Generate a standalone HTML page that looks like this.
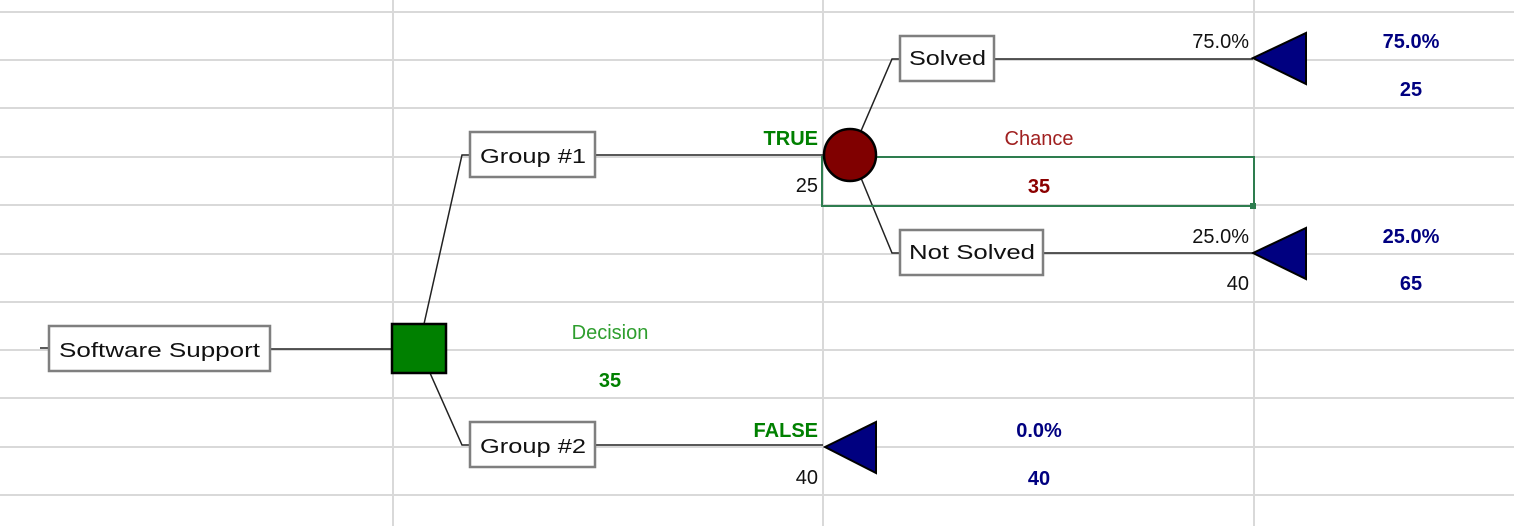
<!DOCTYPE html>
<html><head><meta charset="utf-8"><style>
html,body{margin:0;padding:0;background:#fff;width:1514px;height:526px;overflow:hidden}
text{font-family:"Liberation Sans",sans-serif;font-size:20px}
.b{font-weight:bold}
</style></head><body>
<svg width="1514" height="526" viewBox="0 0 1514 526" xmlns="http://www.w3.org/2000/svg">
<g stroke="#d9d9d9" stroke-width="2">
<line x1="0" y1="12" x2="1514" y2="12"/><line x1="0" y1="60" x2="1514" y2="60"/>
<line x1="0" y1="108" x2="1514" y2="108"/><line x1="0" y1="157" x2="1514" y2="157"/>
<line x1="0" y1="205" x2="1514" y2="205"/><line x1="0" y1="254" x2="1514" y2="254"/>
<line x1="0" y1="302" x2="1514" y2="302"/><line x1="0" y1="350" x2="1514" y2="350"/>
<line x1="0" y1="398" x2="1514" y2="398"/><line x1="0" y1="447" x2="1514" y2="447"/>
<line x1="0" y1="495" x2="1514" y2="495"/>
<line x1="393" y1="0" x2="393" y2="526"/><line x1="823" y1="0" x2="823" y2="526"/>
<line x1="1254" y1="0" x2="1254" y2="526"/>
</g>
<g stroke="#222" stroke-width="1.5" fill="none">
<line x1="40" y1="348" x2="49" y2="348"/>
<line x1="270" y1="349" x2="393" y2="349"/>
<polyline points="424,324 462,155 470,155"/>
<polyline points="430,373 462,445 470,445"/>
<line x1="595" y1="155" x2="825" y2="155"/>
<line x1="595" y1="445" x2="823" y2="445"/>
<polyline points="861,131 892,59 900,59"/>
<polyline points="861,178 892,253 900,253"/>
<line x1="994" y1="59" x2="1253" y2="59"/>
<line x1="1043" y1="253" x2="1253" y2="253"/>
</g>
<rect x="822" y="157" width="432" height="49" fill="none" stroke="#2e7d4f" stroke-width="2"/>
<rect x="1250" y="203" width="6" height="6" fill="#2e7d4f"/>
<g fill="#fff" stroke="#7f7f7f" stroke-width="2.5">
<rect x="49" y="326" width="221" height="45"/>
<rect x="470" y="132" width="125" height="45"/>
<rect x="470" y="422" width="125" height="45"/>
<rect x="900" y="36" width="94" height="45"/>
<rect x="900" y="230" width="143" height="45"/>
</g>
<rect x="392" y="324" width="54" height="49" fill="#008000" stroke="#000" stroke-width="2.5"/>
<circle cx="850" cy="155" r="26" fill="#800000" stroke="#000" stroke-width="2.5"/>
<g fill="#000080" stroke="#000" stroke-width="2">
<polygon points="1253,58 1306,33 1306,84"/>
<polygon points="1253,253 1306,228 1306,279"/>
<polygon points="825,447 876,422 876,473"/>
</g>
<g fill="#111">
<text x="59" y="357" textLength="201" lengthAdjust="spacingAndGlyphs">Software Support</text>
<text x="480" y="163" textLength="106" lengthAdjust="spacingAndGlyphs">Group #1</text>
<text x="480" y="453" textLength="106" lengthAdjust="spacingAndGlyphs">Group #2</text>
<text x="909" y="65" textLength="77" lengthAdjust="spacingAndGlyphs">Solved</text>
<text x="909" y="259" textLength="126" lengthAdjust="spacingAndGlyphs">Not Solved</text>
<text x="818" y="192" text-anchor="end">25</text>
<text x="818" y="484" text-anchor="end">40</text>
<text x="1249" y="48" text-anchor="end">75.0%</text>
<text x="1249" y="243" text-anchor="end">25.0%</text>
<text x="1249" y="290" text-anchor="end">40</text>
</g>
<g fill="#2e9e2e"><text x="610" y="339" text-anchor="middle">Decision</text></g>
<g fill="#008000">
<text class="b" x="818" y="145" text-anchor="end">TRUE</text>
<text class="b" x="818" y="437" text-anchor="end">FALSE</text>
<text class="b" x="610" y="387" text-anchor="middle">35</text>
</g>
<text x="1039" y="145" text-anchor="middle" fill="#a02020">Chance</text>
<text class="b" x="1039" y="193" text-anchor="middle" fill="#8b0000">35</text>
<g fill="#000080">
<text class="b" x="1411" y="48" text-anchor="middle">75.0%</text>
<text class="b" x="1411" y="96" text-anchor="middle">25</text>
<text class="b" x="1411" y="243" text-anchor="middle">25.0%</text>
<text class="b" x="1411" y="290" text-anchor="middle">65</text>
<text class="b" x="1039" y="437" text-anchor="middle">0.0%</text>
<text class="b" x="1039" y="485" text-anchor="middle">40</text>
</g>
</svg>
</body></html>
